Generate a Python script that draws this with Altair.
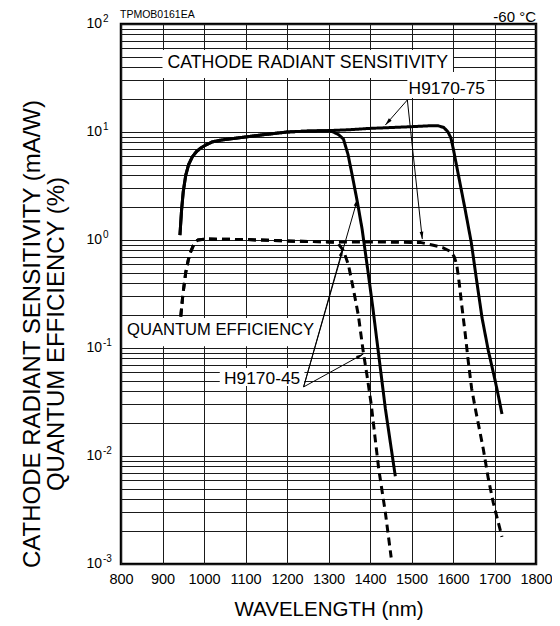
import math
import altair as alt
import pandas as pd

FONT = "Liberation Sans"

# ---- curve data (wavelength nm, value) ----
rs_common_nm = [942, 946, 950, 956, 963, 972, 982, 992, 1005, 1020, 1040, 1060, 1100, 1150, 1200, 1250, 1300]
rs_common_val = [1.11, 1.9, 2.8, 3.98, 5.0, 5.9, 6.6, 7.1, 7.6, 8.1, 8.4, 8.6, 9.0, 9.5, 10.0, 10.2, 10.3]

rs45_tail_nm = [1312, 1325, 1336, 1347, 1357, 1370, 1381, 1394, 1406, 1421, 1437, 1450, 1461]
rs45_tail_val = [10.0, 9.4, 8.6, 6.2, 4.0, 2.2, 1.26, 0.55, 0.25, 0.086, 0.0275, 0.0126, 0.0065]

rs75_tail_nm = [1350, 1400, 1450, 1500, 1540, 1565, 1578, 1588, 1595, 1601, 1613, 1629, 1644, 1657, 1670, 1685, 1701, 1710, 1718]
rs75_tail_val = [10.5, 10.8, 11.0, 11.2, 11.4, 11.4, 11.0, 10.0, 8.8, 6.9, 4.0, 1.94, 0.95, 0.42, 0.19, 0.095, 0.051, 0.035, 0.0245]

qe_common_nm = [944, 949, 956, 962, 968, 976, 985, 1004, 1100, 1200, 1300]
qe_common_val = [0.195, 0.31, 0.50, 0.65, 0.78, 0.92, 1.0, 1.02, 1.01, 0.98, 0.96]

qe45_tail_nm = [1315, 1324, 1336, 1348, 1360, 1372, 1384, 1393, 1403, 1412, 1421, 1437, 1451]
qe45_tail_val = [0.95, 0.92, 0.8, 0.59, 0.35, 0.2, 0.091, 0.055, 0.03, 0.015, 0.0076, 0.003, 0.00115]

qe75_tail_nm = [1400, 1500, 1521, 1550, 1575, 1595, 1603, 1609, 1615, 1621, 1629, 1637, 1645, 1655, 1673, 1685, 1697, 1718]
qe75_tail_val = [0.96, 0.95, 0.95, 0.9, 0.85, 0.78, 0.7, 0.59, 0.4, 0.25, 0.14, 0.074, 0.042, 0.026, 0.0116, 0.0062, 0.0037, 0.00178]

# ---- axes ----
x_ticks = list(range(800, 1900, 100))
y_decades = [100, 10, 1, 0.1, 0.01, 0.001]
y_exponents = ["2", "1", "0", "-1", "-2", "-3"]
y_grid = sorted({round(k * 10.0 ** e, 6) for e in range(-3, 2) for k in range(1, 10)} | {100.0})

# ---- annotations ----
box_labels = ["CATHODE RADIANT SENSITIVITY", "H9170-75", "QUANTUM EFFICIENCY", "H9170-45"]
box_x1 = [900, 1490, 807, 1038]
box_x2 = [1600, 1683, 1274, 1242]
box_y1 = [31.6, 20.6, 0.104, 0.0445]
box_y2 = [57.4, 36.0, 0.19, 0.0653]
label_x = [1250, 1585, 1040, 1140]
label_y = [43.6, 25.0, 0.147, 0.0516]
label_fs = [17.7, 17.4, 16.6, 17.4]

lead_x1 = [1490, 1490, 1240, 1240, 1240]
lead_y1 = [19.8, 19.8, 0.0436, 0.0436, 0.0436]
lead_x2 = [1437, 1526, 1370, 1334, 1384]
lead_y2 = [11.6, 1.02, 2.40, 0.826, 0.088]

W, H = 415, 540
XD = (800, 1800)
YD = (0.001, 100)


def px(nm, v):
    x = (nm - XD[0]) / (XD[1] - XD[0]) * W
    y = (math.log10(YD[1]) - math.log10(v)) / (math.log10(YD[1]) - math.log10(YD[0])) * H
    return x, y


rows = []
def add(series, dash, nms, vals):
    for n, v in zip(nms, vals):
        rows.append({"nm": n, "val": v, "series": series, "kind": dash})

add("rs45", "solid", rs_common_nm + rs45_tail_nm, rs_common_val + rs45_tail_val)
add("rs75", "solid", rs_common_nm + rs75_tail_nm, rs_common_val + rs75_tail_val)
add("qe45", "dashed", qe_common_nm + qe45_tail_nm, qe_common_val + qe45_tail_val)
add("qe75", "dashed", qe_common_nm + qe75_tail_nm, qe_common_val + qe75_tail_val)
curves = pd.DataFrame(rows)

boxes = pd.DataFrame({"label": box_labels, "x1": box_x1, "x2": box_x2, "y1": box_y1, "y2": box_y2,
                      "lx": label_x, "ly": label_y, "fs": label_fs})

angles = []
for a, b, c, d in zip(lead_x1, lead_y1, lead_x2, lead_y2):
    (p1x, p1y), (p2x, p2y) = px(a, b), px(c, d)
    angles.append(math.degrees(math.atan2(p2x - p1x, -(p2y - p1y))) % 360)
leads = pd.DataFrame({"x1": lead_x1, "y1": lead_y1, "x2": lead_x2, "y2": lead_y2, "ang": angles})

ylabels = pd.DataFrame({"v": y_decades, "exp": y_exponents, "base": ["10"] * 6})

xs = alt.Scale(domain=list(XD), nice=False, zero=False)
ys = alt.Scale(type="log", domain=list(YD), nice=False)

X_AX = alt.Axis(values=x_ticks, grid=True, gridColor="#1a1a1a", gridWidth=1, gridOpacity=1,
                ticks=False, domain=False, labelFontSize=14.5, labelFont=FONT, labelColor="black",
                labelPadding=8, format="d", labelFlush=False, labelOverlap=False, labelBound=False,
                title="WAVELENGTH (nm)", titleFont=FONT, titleFontSize=20.5, titleFontWeight="normal",
                titleColor="black", titlePadding=14)
Y_AX = alt.Axis(values=y_grid, grid=True, gridColor="#1a1a1a", gridWidth=1, gridOpacity=1,
                labels=False, ticks=False, domain=False, title=None)


def X(f):
    return alt.X(f, scale=xs, axis=X_AX, title="WAVELENGTH (nm)")


def Y(f):
    return alt.Y(f, scale=ys, axis=Y_AX, title=None)


curve_layer = alt.Chart(curves).mark_line(strokeWidth=3, strokeCap="butt", strokeJoin="round").encode(
    x=X("nm:Q"), y=Y("val:Q"),
    detail="series:N",
    strokeDash=alt.StrokeDash("kind:N", scale=alt.Scale(domain=["solid", "dashed"], range=[[1, 0], [8, 5]]),
                              legend=None),
    color=alt.value("black"),
)

rect_layer = alt.Chart(boxes).mark_rect(fill="white").encode(
    x=X("x1:Q"), x2="x2:Q", y=Y("y1:Q"), y2="y2:Q",
)

text_layer = alt.Chart(boxes).mark_text(font=FONT, color="black", align="center",
                                        baseline="middle").encode(
    x=X("lx:Q"), y=Y("ly:Q"), text="label:N", size=alt.Size("fs:Q", scale=None, legend=None))

lead_layer = alt.Chart(leads).mark_rule(color="black", strokeWidth=1).encode(
    x=X("x1:Q"), y=Y("y1:Q"), x2="x2:Q", y2="y2:Q")

arrow_layer = alt.Chart(leads).mark_point(shape="M0,0 L-0.25,1 L0.25,1 Z", filled=True, size=220,
                                          color="black", opacity=1).encode(
    x=X("x2:Q"), y=Y("y2:Q"), angle=alt.Angle("ang:Q", scale=None))

ybase = alt.Chart(ylabels).mark_text(font=FONT, fontSize=14, align="right", baseline="middle",
                                     color="black").encode(
    x=alt.value(-19), y=Y("v:Q"), text="base:N")
yexp = alt.Chart(ylabels).mark_text(font=FONT, fontSize=10, align="left", baseline="middle", dy=-5,
                                    color="black").encode(
    x=alt.value(-18), y=Y("v:Q"), text="exp:N")

ytitle1 = alt.Chart(pd.DataFrame({"t": ["CATHODE RADIANT SENSITIVITY (mA/W)"]})).mark_text(
    font=FONT, fontSize=24, angle=270, align="center", baseline="middle", color="black").encode(
    x=alt.value(-88), y=alt.value(310), text="t:N")
ytitle2 = alt.Chart(pd.DataFrame({"t": ["QUANTUM EFFICIENCY (%)"]})).mark_text(
    font=FONT, fontSize=24, angle=270, align="center", baseline="middle", color="black").encode(
    x=alt.value(-64), y=alt.value(310), text="t:N")

code_txt = alt.Chart(pd.DataFrame({"t": ["TPMOB0161EA"]})).mark_text(
    font=FONT, fontSize=10.5, align="left", baseline="alphabetic", color="black").encode(
    x=alt.value(-1), y=alt.value(-6), text="t:N")
temp_txt = alt.Chart(pd.DataFrame({"t": ["-60 °C"]})).mark_text(
    font=FONT, fontSize=15, align="right", baseline="alphabetic", color="black").encode(
    x=alt.value(W), y=alt.value(-2), text="t:N")

chart = alt.layer(
    rect_layer, curve_layer, lead_layer, arrow_layer, text_layer,
    ybase, yexp, ytitle1, ytitle2, code_txt, temp_txt
).properties(
    width=W, height=H,
    autosize=alt.AutoSizeParams(type="none"),
    padding={"left": 113, "top": 16, "right": 16, "bottom": 64},
).configure(background="white").configure_view(stroke="black", strokeWidth=2.5)

chart.save("out.html", embed_options={"renderer": "svg", "actions": False})
